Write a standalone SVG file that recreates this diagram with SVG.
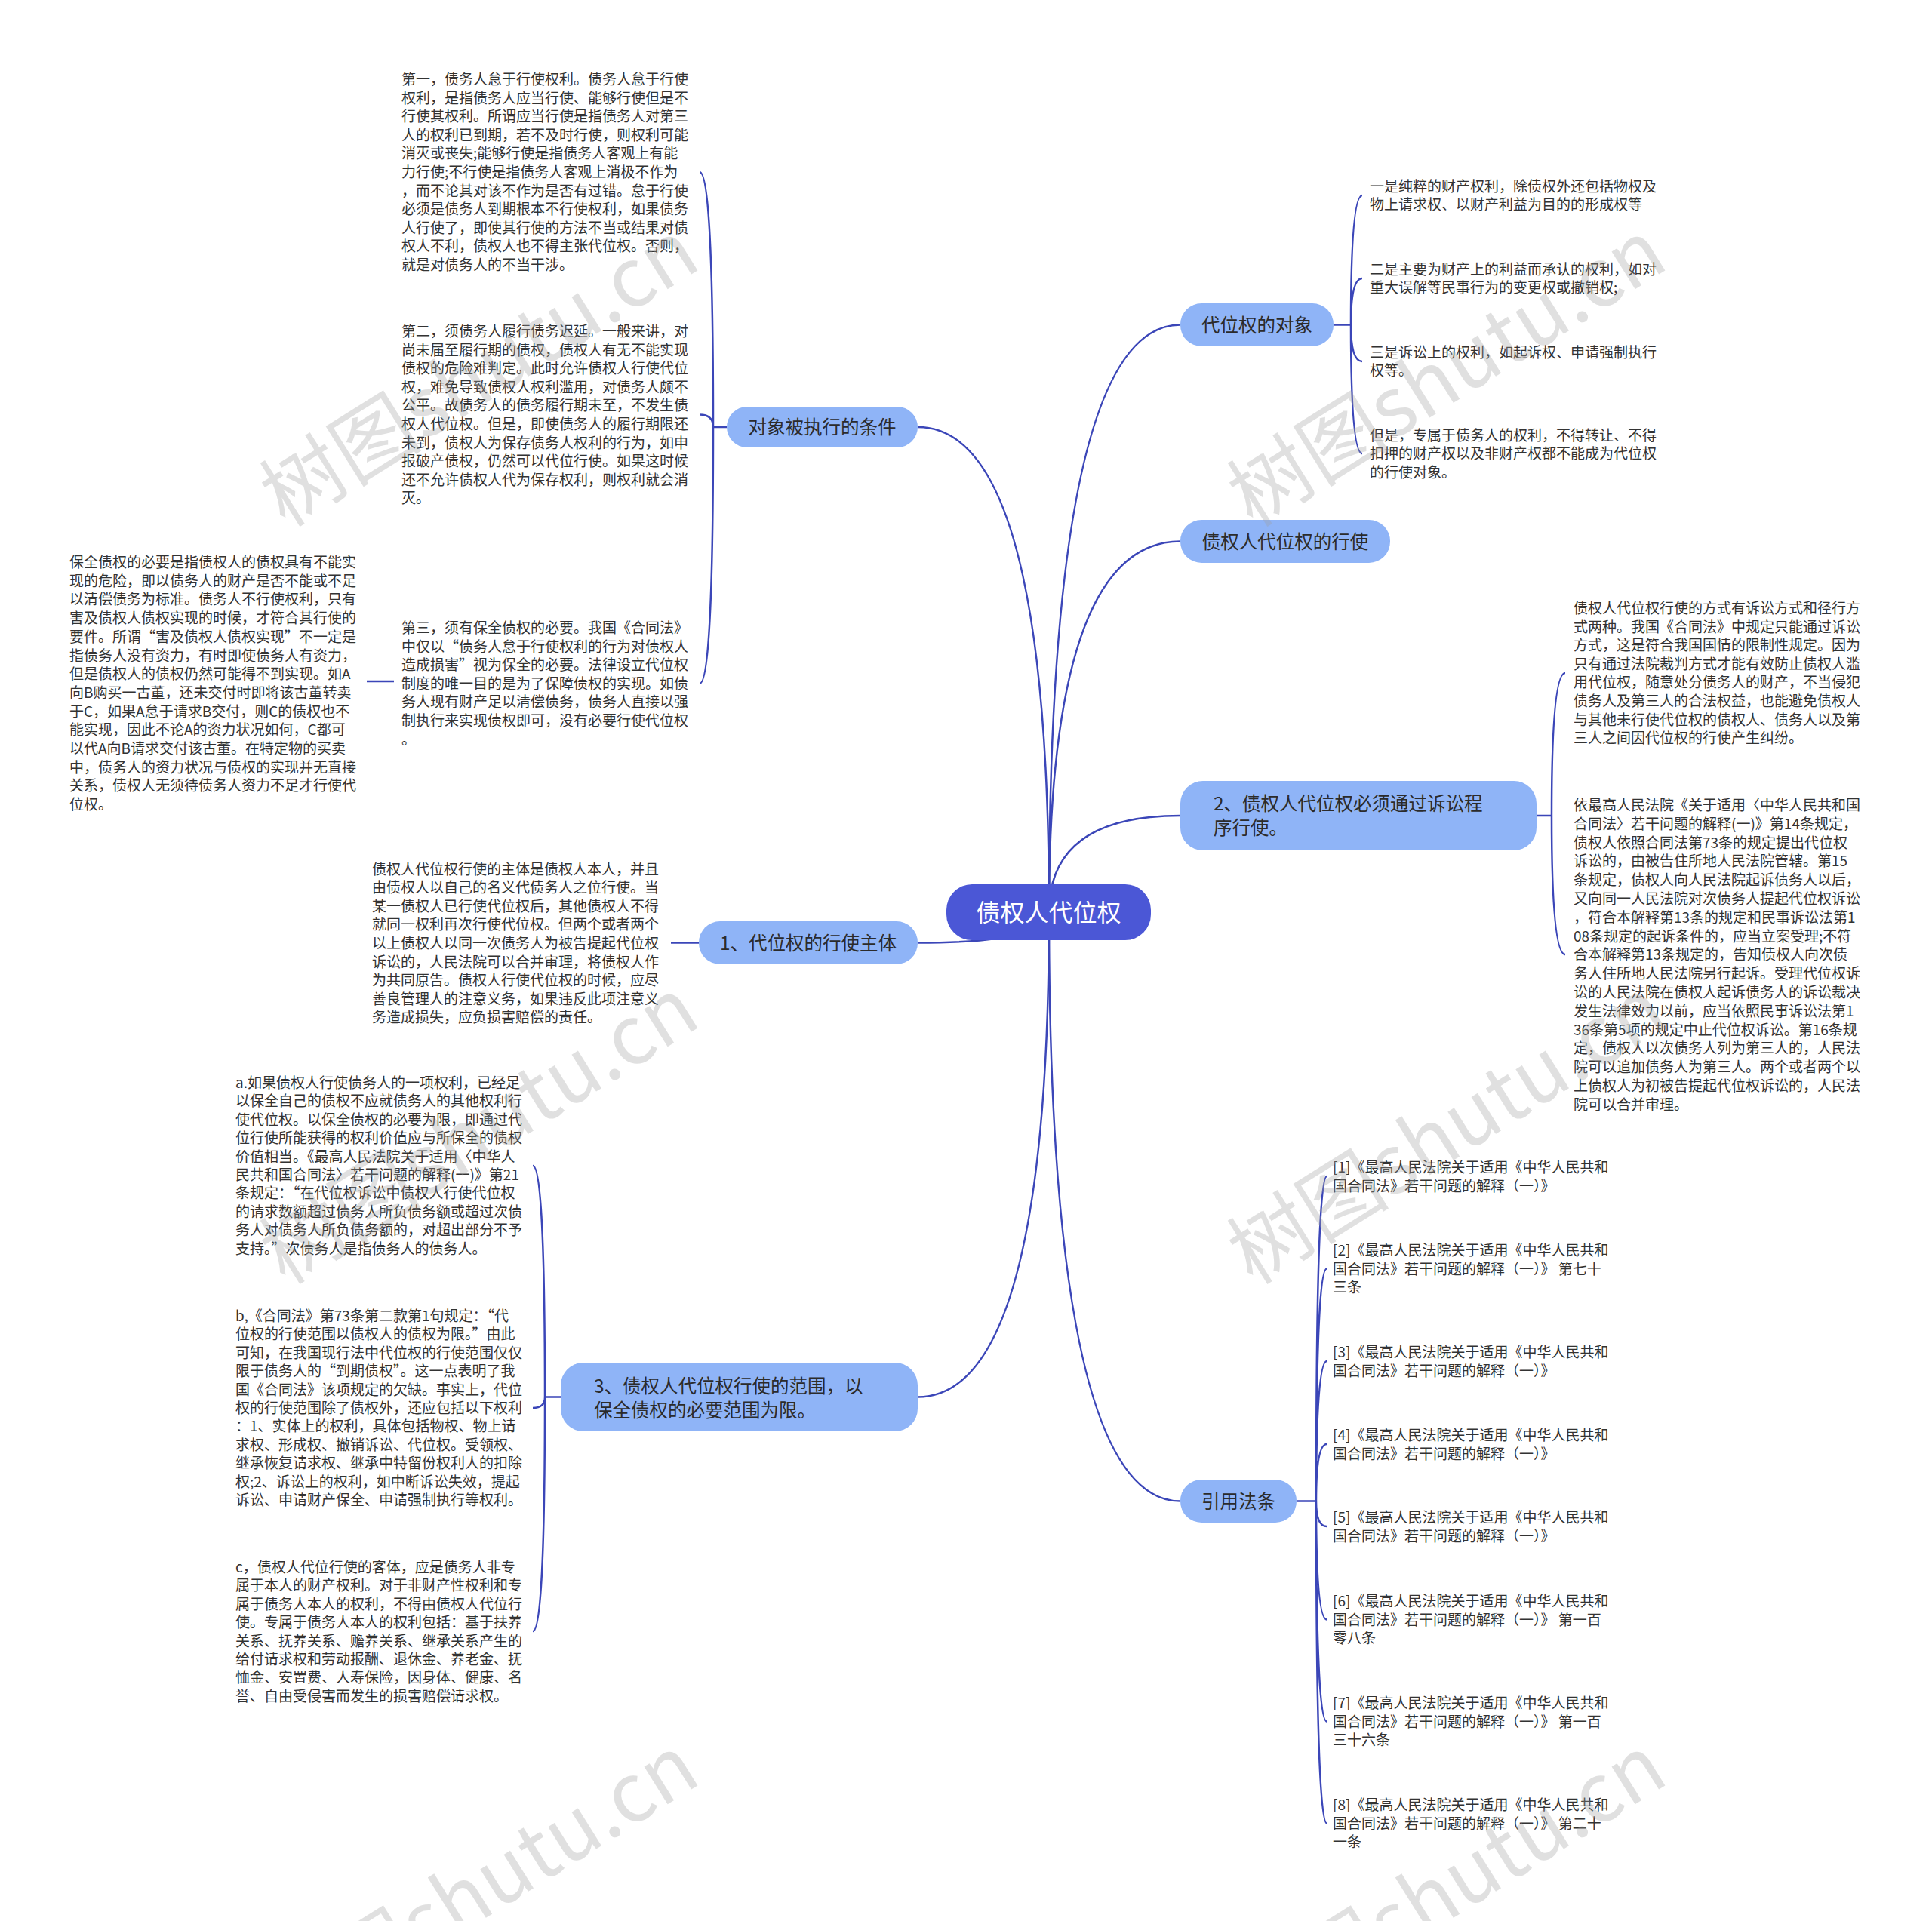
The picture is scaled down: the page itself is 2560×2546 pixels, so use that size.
<svg xmlns="http://www.w3.org/2000/svg" width="2560" height="2546" viewBox="0 0 2560 2546">
<style>
.t{font-family:"Noto Sans CJK SC","Noto Sans",sans-serif;font-size:19px;fill:#333}
.n1 rect{fill:#8fb4f7}
.n1 text{font-family:"Noto Sans CJK SC","Noto Sans",sans-serif;font-size:24.5px;fill:#2b2b2b}
.root rect{fill:#4b57d6}
.root text{font-family:"Noto Sans CJK SC","Noto Sans",sans-serif;font-size:32px;fill:#fff}
.link{fill:none;stroke:#3b46b8;stroke-width:2.5}
.wm{font-family:"Noto Sans CJK SC","Noto Sans",sans-serif;font-size:108px;fill:#a0a0a0;fill-opacity:0.32}
</style>
<rect width="2560" height="2546" fill="#fff"/>
<g id="connectors">
<path class="link" d="M1390,1209 Q1390,566 1216,566"/>
<path class="link" d="M1390,1209 Q1390,1249.5 1216,1249.5"/>
<path class="link" d="M1390,1209 Q1390,1851.5 1216,1851.5"/>
<path class="link" d="M1390,1209 Q1390,430.5 1564,430.5"/>
<path class="link" d="M1390,1209 Q1390,717.5 1564,717.5"/>
<path class="link" d="M1390,1209 Q1390,1081 1564,1081"/>
<path class="link" d="M1390,1209 Q1390,1989.5 1564,1989.5"/>
<path class="link" d="M963,566 L945,566 M945,566 Q945,228 927,228 M945,566 Q945,549.5 927,549.5 M945,566 Q945,906 927,906"/>
<path class="link" d="M926,1249.5 L889,1249.5"/>
<path class="link" d="M522,903 L486,903"/>
<path class="link" d="M743,1851.5 L722,1851.5 M722,1851.5 Q722,1545 706,1545 M722,1851.5 Q722,1866 706,1866 M722,1851.5 Q722,2162 706,2162"/>
<path class="link" d="M1767,430.5 L1790,430.5 M1790,430.5 Q1790,259 1805,259 M1790,430.5 Q1790,369 1805,369 M1790,430.5 Q1790,479 1805,479 M1790,430.5 Q1790,601 1805,601"/>
<path class="link" d="M2036,1081 L2056,1081 M2056,1081 Q2056,892 2074,892 M2056,1081 Q2056,1265 2074,1265"/>
<path class="link" d="M1718,1989.5 L1744,1989.5 M1744,1989.5 Q1744,1559 1758,1559 M1744,1989.5 Q1744,1681.5 1758,1681.5 M1744,1989.5 Q1744,1804 1758,1804 M1744,1989.5 Q1744,1914 1758,1914 M1744,1989.5 Q1744,2023 1758,2023 M1744,1989.5 Q1744,2146.5 1758,2146.5 M1744,1989.5 Q1744,2281.5 1758,2281.5 M1744,1989.5 Q1744,2416.5 1758,2416.5"/>
</g>
<g id="root" class="root"><rect x="1254" y="1172" width="271" height="74" rx="34"/><text x="1389.5" y="1221" text-anchor="middle">债权人代位权</text></g>
<g id="n-cond" class="n1"><rect x="963" y="539" width="253" height="54" rx="27"/><text x="1089.5" y="575" text-anchor="middle">对象被执行的条件</text></g>
<g id="n-subj" class="n1"><rect x="926" y="1221" width="290" height="57" rx="28"/><text x="1071" y="1258.5" text-anchor="middle">1、代位权的行使主体</text></g>
<g id="n-scope" class="n1"><rect x="743" y="1806" width="473" height="91" rx="30"/><text x="787" y="1846"><tspan x="787">3、债权人代位权行使的范围，以</tspan><tspan x="787" dy="32">保全债权的必要范围为限。</tspan></text></g>
<g id="n-obj" class="n1"><rect x="1564" y="402" width="203" height="57" rx="28"/><text x="1665.5" y="439.5" text-anchor="middle">代位权的对象</text></g>
<g id="n-exer" class="n1"><rect x="1564" y="689" width="278" height="57" rx="28"/><text x="1703" y="726.5" text-anchor="middle">债权人代位权的行使</text></g>
<g id="n-lit" class="n1"><rect x="1564" y="1035" width="472" height="92" rx="30"/><text x="1608" y="1074"><tspan x="1608">2、债权人代位权必须通过诉讼程</tspan><tspan x="1608" dy="32">序行使。</tspan></text></g>
<g id="n-ref" class="n1"><rect x="1564" y="1961" width="154" height="57" rx="28"/><text x="1641" y="1998.5" text-anchor="middle">引用法条</text></g>
<g id="b1"><text class="t" x="532" y="112"><tspan x="532">第一，债务人怠于行使权利。债务人怠于行使</tspan><tspan x="532" dy="24.6">权利，是指债务人应当行使、能够行使但是不</tspan><tspan x="532" dy="24.6">行使其权利。所谓应当行使是指债务人对第三</tspan><tspan x="532" dy="24.6">人的权利已到期，若不及时行使，则权利可能</tspan><tspan x="532" dy="24.6">消灭或丧失;能够行使是指债务人客观上有能</tspan><tspan x="532" dy="24.6">力行使;不行使是指债务人客观上消极不作为</tspan><tspan x="532" dy="24.6">，而不论其对该不作为是否有过错。怠于行使</tspan><tspan x="532" dy="24.6">必须是债务人到期根本不行使权利，如果债务</tspan><tspan x="532" dy="24.6">人行使了，即使其行使的方法不当或结果对债</tspan><tspan x="532" dy="24.6">权人不利，债权人也不得主张代位权。否则，</tspan><tspan x="532" dy="24.6">就是对债务人的不当干涉。</tspan></text></g>
<g id="b2"><text class="t" x="532" y="446"><tspan x="532">第二，须债务人履行债务迟延。一般来讲，对</tspan><tspan x="532" dy="24.6">尚未届至履行期的债权，债权人有无不能实现</tspan><tspan x="532" dy="24.6">债权的危险难判定。此时允许债权人行使代位</tspan><tspan x="532" dy="24.6">权，难免导致债权人权利滥用，对债务人颇不</tspan><tspan x="532" dy="24.6">公平。故债务人的债务履行期未至，不发生债</tspan><tspan x="532" dy="24.6">权人代位权。但是，即使债务人的履行期限还</tspan><tspan x="532" dy="24.6">未到，债权人为保存债务人权利的行为，如申</tspan><tspan x="532" dy="24.6">报破产债权，仍然可以代位行使。如果这时候</tspan><tspan x="532" dy="24.6">还不允许债权人代为保存权利，则权利就会消</tspan><tspan x="532" dy="24.6">灭。</tspan></text></g>
<g id="b3"><text class="t" x="532" y="839"><tspan x="532">第三，须有保全债权的必要。我国《合同法》</tspan><tspan x="532" dy="24.6">中仅以“债务人怠于行使权利的行为对债权人</tspan><tspan x="532" dy="24.6">造成损害”视为保全的必要。法律设立代位权</tspan><tspan x="532" dy="24.6">制度的唯一目的是为了保障债权的实现。如债</tspan><tspan x="532" dy="24.6">务人现有财产足以清偿债务，债务人直接以强</tspan><tspan x="532" dy="24.6">制执行来实现债权即可，没有必要行使代位权</tspan><tspan x="532" dy="24.6">。</tspan></text></g>
<g id="bl"><text class="t" x="92" y="752"><tspan x="92">保全债权的必要是指债权人的债权具有不能实</tspan><tspan x="92" dy="24.7">现的危险，即以债务人的财产是否不能或不足</tspan><tspan x="92" dy="24.7">以清偿债务为标准。债务人不行使权利，只有</tspan><tspan x="92" dy="24.7">害及债权人债权实现的时候，才符合其行使的</tspan><tspan x="92" dy="24.7">要件。所谓“害及债权人债权实现”不一定是</tspan><tspan x="92" dy="24.7">指债务人没有资力，有时即使债务人有资力，</tspan><tspan x="92" dy="24.7">但是债权人的债权仍然可能得不到实现。如A</tspan><tspan x="92" dy="24.7">向B购买一古董，还未交付时即将该古董转卖</tspan><tspan x="92" dy="24.7">于C，如果A怠于请求B交付，则C的债权也不</tspan><tspan x="92" dy="24.7">能实现，因此不论A的资力状况如何，C都可</tspan><tspan x="92" dy="24.7">以代A向B请求交付该古董。在特定物的买卖</tspan><tspan x="92" dy="24.7">中，债务人的资力状况与债权的实现并无直接</tspan><tspan x="92" dy="24.7">关系，债权人无须待债务人资力不足才行使代</tspan><tspan x="92" dy="24.7">位权。</tspan></text></g>
<g id="t1"><text class="t" x="1815" y="253.7"><tspan x="1815">一是纯粹的财产权利，除债权外还包括物权及</tspan><tspan x="1815" dy="24.6">物上请求权、以财产利益为目的的形成权等</tspan></text></g>
<g id="t2"><text class="t" x="1815" y="363.7"><tspan x="1815">二是主要为财产上的利益而承认的权利，如对</tspan><tspan x="1815" dy="24.6">重大误解等民事行为的变更权或撤销权;</tspan></text></g>
<g id="t3"><text class="t" x="1815" y="473.7"><tspan x="1815">三是诉讼上的权利，如起诉权、申请强制执行</tspan><tspan x="1815" dy="24.6">权等。</tspan></text></g>
<g id="t4"><text class="t" x="1815" y="583.7"><tspan x="1815">但是，专属于债务人的权利，不得转让、不得</tspan><tspan x="1815" dy="24.6">扣押的财产权以及非财产权都不能成为代位权</tspan><tspan x="1815" dy="24.6">的行使对象。</tspan></text></g>
<g id="t5"><text class="t" x="2085" y="813"><tspan x="2085">债权人代位权行使的方式有诉讼方式和径行方</tspan><tspan x="2085" dy="24.6">式两种。我国《合同法》中规定只能通过诉讼</tspan><tspan x="2085" dy="24.6">方式，这是符合我国国情的限制性规定。因为</tspan><tspan x="2085" dy="24.6">只有通过法院裁判方式才能有效防止债权人滥</tspan><tspan x="2085" dy="24.6">用代位权，随意处分债务人的财产，不当侵犯</tspan><tspan x="2085" dy="24.6">债务人及第三人的合法权益，也能避免债权人</tspan><tspan x="2085" dy="24.6">与其他未行使代位权的债权人、债务人以及第</tspan><tspan x="2085" dy="24.6">三人之间因代位权的行使产生纠纷。</tspan></text></g>
<g id="t6"><text class="t" x="2085" y="1074"><tspan x="2085">依最高人民法院《关于适用〈中华人民共和国</tspan><tspan x="2085" dy="24.8">合同法〉若干问题的解释(一)》第14条规定，</tspan><tspan x="2085" dy="24.8">债权人依照合同法第73条的规定提出代位权</tspan><tspan x="2085" dy="24.8">诉讼的，由被告住所地人民法院管辖。第15</tspan><tspan x="2085" dy="24.8">条规定，债权人向人民法院起诉债务人以后，</tspan><tspan x="2085" dy="24.8">又向同一人民法院对次债务人提起代位权诉讼</tspan><tspan x="2085" dy="24.8">，符合本解释第13条的规定和民事诉讼法第1</tspan><tspan x="2085" dy="24.8">08条规定的起诉条件的，应当立案受理;不符</tspan><tspan x="2085" dy="24.8">合本解释第13条规定的，告知债权人向次债</tspan><tspan x="2085" dy="24.8">务人住所地人民法院另行起诉。受理代位权诉</tspan><tspan x="2085" dy="24.8">讼的人民法院在债权人起诉债务人的诉讼裁决</tspan><tspan x="2085" dy="24.8">发生法律效力以前，应当依照民事诉讼法第1</tspan><tspan x="2085" dy="24.8">36条第5项的规定中止代位权诉讼。第16条规</tspan><tspan x="2085" dy="24.8">定，债权人以次债务人列为第三人的，人民法</tspan><tspan x="2085" dy="24.8">院可以追加债务人为第三人。两个或者两个以</tspan><tspan x="2085" dy="24.8">上债权人为初被告提起代位权诉讼的，人民法</tspan><tspan x="2085" dy="24.8">院可以合并审理。</tspan></text></g>
<g id="subj"><text class="t" x="493" y="1158.5"><tspan x="493">债权人代位权行使的主体是债权人本人，并且</tspan><tspan x="493" dy="24.6">由债权人以自己的名义代债务人之位行使。当</tspan><tspan x="493" dy="24.6">某一债权人已行使代位权后，其他债权人不得</tspan><tspan x="493" dy="24.6">就同一权利再次行使代位权。但两个或者两个</tspan><tspan x="493" dy="24.6">以上债权人以同一次债务人为被告提起代位权</tspan><tspan x="493" dy="24.6">诉讼的，人民法院可以合并审理，将债权人作</tspan><tspan x="493" dy="24.6">为共同原告。债权人行使代位权的时候，应尽</tspan><tspan x="493" dy="24.6">善良管理人的注意义务，如果违反此项注意义</tspan><tspan x="493" dy="24.6">务造成损失，应负损害赔偿的责任。</tspan></text></g>
<g id="ta"><text class="t" x="312" y="1442"><tspan x="312">a.如果债权人行使债务人的一项权利，已经足</tspan><tspan x="312" dy="24.4">以保全自己的债权不应就债务人的其他权利行</tspan><tspan x="312" dy="24.4">使代位权。以保全债权的必要为限，即通过代</tspan><tspan x="312" dy="24.4">位行使所能获得的权利价值应与所保全的债权</tspan><tspan x="312" dy="24.4">价值相当。《最高人民法院关于适用〈中华人</tspan><tspan x="312" dy="24.4">民共和国合同法〉若干问题的解释(一)》第21</tspan><tspan x="312" dy="24.4">条规定：“在代位权诉讼中债权人行使代位权</tspan><tspan x="312" dy="24.4">的请求数额超过债务人所负债务额或超过次债</tspan><tspan x="312" dy="24.4">务人对债务人所负债务额的，对超出部分不予</tspan><tspan x="312" dy="24.4">支持。”次债务人是指债务人的债务人。</tspan></text></g>
<g id="tb"><text class="t" x="312" y="1751"><tspan x="312">b,《合同法》第73条第二款第1句规定：“代</tspan><tspan x="312" dy="24.4">位权的行使范围以债权人的债权为限。”由此</tspan><tspan x="312" dy="24.4">可知，在我国现行法中代位权的行使范围仅仅</tspan><tspan x="312" dy="24.4">限于债务人的“到期债权”。这一点表明了我</tspan><tspan x="312" dy="24.4">国《合同法》该项规定的欠缺。事实上，代位</tspan><tspan x="312" dy="24.4">权的行使范围除了债权外，还应包括以下权利</tspan><tspan x="312" dy="24.4">：1、实体上的权利，具体包括物权、物上请</tspan><tspan x="312" dy="24.4">求权、形成权、撤销诉讼、代位权。受领权、</tspan><tspan x="312" dy="24.4">继承恢复请求权、继承中特留份权利人的扣除</tspan><tspan x="312" dy="24.4">权;2、诉讼上的权利，如中断诉讼失效，提起</tspan><tspan x="312" dy="24.4">诉讼、申请财产保全、申请强制执行等权利。</tspan></text></g>
<g id="tc"><text class="t" x="312" y="2084"><tspan x="312">c，债权人代位行使的客体，应是债务人非专</tspan><tspan x="312" dy="24.4">属于本人的财产权利。对于非财产性权利和专</tspan><tspan x="312" dy="24.4">属于债务人本人的权利，不得由债权人代位行</tspan><tspan x="312" dy="24.4">使。专属于债务人本人的权利包括：基于扶养</tspan><tspan x="312" dy="24.4">关系、抚养关系、赡养关系、继承关系产生的</tspan><tspan x="312" dy="24.4">给付请求权和劳动报酬、退休金、养老金、抚</tspan><tspan x="312" dy="24.4">恤金、安置费、人寿保险，因身体、健康、名</tspan><tspan x="312" dy="24.4">誉、自由受侵害而发生的损害赔偿请求权。</tspan></text></g>
<g id="r1"><text class="t" x="1766" y="1554"><tspan x="1766">[1]《最高人民法院关于适用《中华人民共和</tspan><tspan x="1766" dy="24.5">国合同法》若干问题的解释（一）》</tspan></text></g>
<g id="r2"><text class="t" x="1766" y="1664"><tspan x="1766">[2]《最高人民法院关于适用《中华人民共和</tspan><tspan x="1766" dy="24.5">国合同法》若干问题的解释（一）》 第七十</tspan><tspan x="1766" dy="24.5">三条</tspan></text></g>
<g id="r3"><text class="t" x="1766" y="1799"><tspan x="1766">[3]《最高人民法院关于适用《中华人民共和</tspan><tspan x="1766" dy="24.5">国合同法》若干问题的解释（一）》</tspan></text></g>
<g id="r4"><text class="t" x="1766" y="1909"><tspan x="1766">[4]《最高人民法院关于适用《中华人民共和</tspan><tspan x="1766" dy="24.5">国合同法》若干问题的解释（一）》</tspan></text></g>
<g id="r5"><text class="t" x="1766" y="2018"><tspan x="1766">[5]《最高人民法院关于适用《中华人民共和</tspan><tspan x="1766" dy="24.5">国合同法》若干问题的解释（一）》</tspan></text></g>
<g id="r6"><text class="t" x="1766" y="2129"><tspan x="1766">[6]《最高人民法院关于适用《中华人民共和</tspan><tspan x="1766" dy="24.5">国合同法》若干问题的解释（一）》 第一百</tspan><tspan x="1766" dy="24.5">零八条</tspan></text></g>
<g id="r7"><text class="t" x="1766" y="2264"><tspan x="1766">[7]《最高人民法院关于适用《中华人民共和</tspan><tspan x="1766" dy="24.5">国合同法》若干问题的解释（一）》 第一百</tspan><tspan x="1766" dy="24.5">三十六条</tspan></text></g>
<g id="r8"><text class="t" x="1766" y="2399"><tspan x="1766">[8]《最高人民法院关于适用《中华人民共和</tspan><tspan x="1766" dy="24.5">国合同法》若干问题的解释（一）》 第二十</tspan><tspan x="1766" dy="24.5">一条</tspan></text></g>
<g id="watermarks">
<text class="wm" transform="translate(378,700) rotate(-32)">树图shutu.cn</text>
<text class="wm" transform="translate(1660,700) rotate(-32)">树图shutu.cn</text>
<text class="wm" transform="translate(378,1704) rotate(-32)">树图shutu.cn</text>
<text class="wm" transform="translate(1660,1704) rotate(-32)">树图shutu.cn</text>
<text class="wm" transform="translate(378,2708) rotate(-32)">树图shutu.cn</text>
<text class="wm" transform="translate(1660,2708) rotate(-32)">树图shutu.cn</text>
</g>
</svg>
